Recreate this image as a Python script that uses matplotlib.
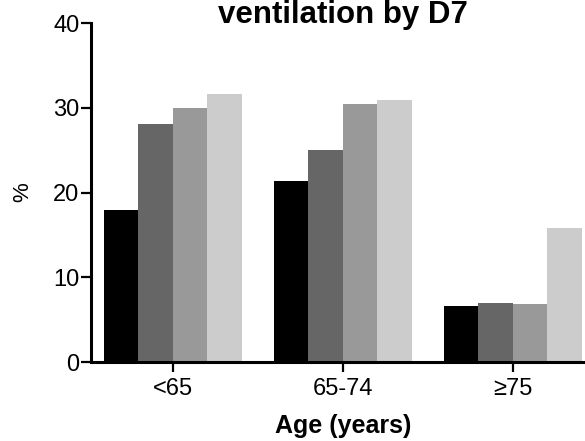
import numpy as np
import matplotlib
matplotlib.use('Agg')
import matplotlib.pyplot as plt

plt.rcParams['font.family'] = ['Liberation Sans', 'DejaVu Sans']

# Data (percent)
age_groups = ['<65', '65-74', '\u226575']
series_a = [17.9, 21.4, 6.6]
series_b = [28.1, 25.0, 7.0]
series_c = [30.0, 30.4, 6.8]
series_d = [31.6, 30.9, 15.8]
bar_colors = ['#000000', '#666666', '#999999', '#cccccc']
y_ticks = [0, 10, 20, 30, 40]


def plot_bars(ax):
    all_series = [series_a, series_b, series_c, series_d]
    x = np.arange(len(age_groups))
    width = 0.203
    for i, vals in enumerate(all_series):
        offset = (i - 1.5) * width
        ax.bar(x + offset, vals, width, color=bar_colors[i],
               linewidth=0, zorder=1)

    ax.set_xticks(x)
    ax.set_xticklabels(age_groups)
    ax.set_yticks(y_ticks)
    ax.set_ylim(0, 40)
    ax.set_xlim(-0.48, 2.484)

    for side in ['top', 'right']:
        ax.spines[side].set_visible(False)
    for side in ['left', 'bottom']:
        ax.spines[side].set_linewidth(2.2)
        ax.spines[side].set_zorder(3)

    ax.tick_params(axis='both', length=7.2, width=1.6, labelsize=17,
                   direction='out')
    ax.tick_params(axis='y', pad=1.0)
    ax.tick_params(axis='x', pad=4.0)

    ax.set_ylabel('%', fontsize=16)
    ax.yaxis.set_label_coords(-0.115, 0.5)

    ax.set_xlabel('Age (years)', fontsize=18, fontweight='bold')
    ax.xaxis.set_label_coords(0.5, -0.2094)
    ax.xaxis.label.set_verticalalignment('baseline')


fig = plt.figure(figsize=(5.85, 4.41), dpi=100)
ax = fig.add_axes([91 / 585, 0.1791, 504 / 585, 0.7687])
plot_bars(ax)

# Title sits right at the top edge, as in the original
fig.text(343 / 585, (441 - 23) / 441, 'ventilation by D7', ha='center',
         va='baseline', fontsize=22.5, fontweight='bold')

fig.savefig('out.png', dpi=100)
